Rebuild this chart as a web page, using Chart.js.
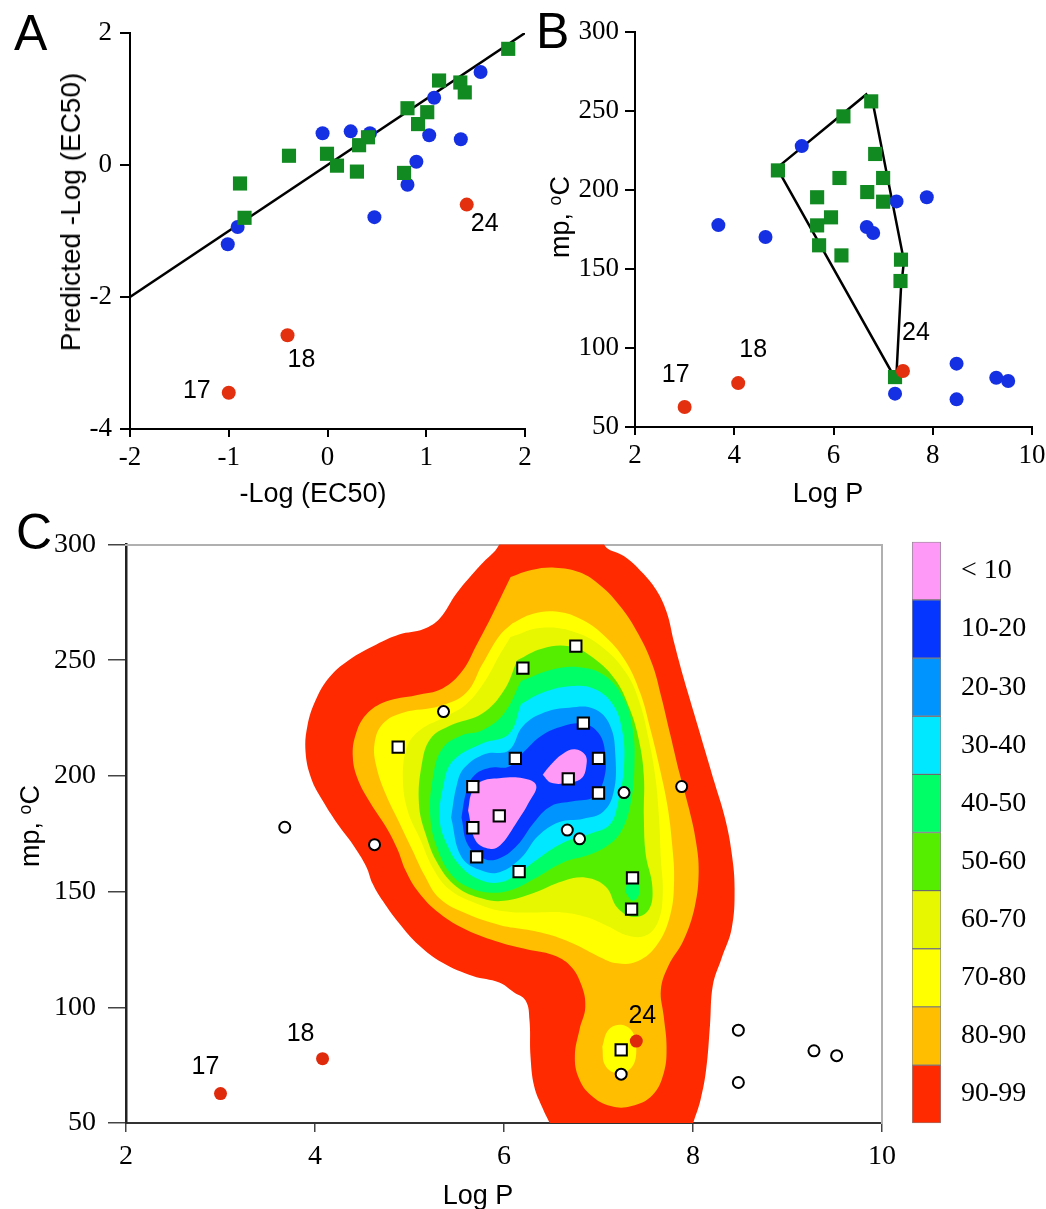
<!DOCTYPE html>
<html>
<head>
<meta charset="utf-8">
<script src="https://cdn.jsdelivr.net/npm/chart.js@4.4.0/dist/chart.umd.min.js"></script>
<style>
  body { margin: 0; background: #fff; width: 1046px; height: 1209px; position: relative; overflow: hidden;
         font-family: "Liberation Sans", Arial, sans-serif; }
  canvas { position: absolute; }
  .t { position: absolute; white-space: nowrap; font-size: 27px; line-height: 1; color: #000; }
  .v { transform: translate(-50%, -50%) rotate(-90deg); }
  .h { transform: translate(-50%, -50%); }
  .p { position: absolute; font-size: 50px; line-height: 1; color: #000; }
  sup { font-size: 65%; vertical-align: 0.45em; }
</style>
</head>
<body>
<canvas id="chartA" width="545" height="480" style="left:0;top:0"></canvas>
<canvas id="chartB" width="530" height="480" style="left:540px;top:0"></canvas>
<canvas id="chartC" width="920" height="680" style="left:0;top:500px"></canvas>
<canvas id="chartKey" width="141" height="639" style="left:905px;top:513px"></canvas>

<div class="p" style="left:14px;top:8px">A</div>
<div class="p" style="left:536px;top:6px">B</div>
<div class="p" style="left:16px;top:507px">C</div>

<div class="t v" style="left:71px;top:212px;font-size:28px">Predicted -Log (EC50)</div>
<div class="t h" style="left:313px;top:493px">-Log (EC50)</div>
<div class="t v" style="left:560px;top:217px">mp, <sup>o</sup>C</div>
<div class="t h" style="left:828px;top:493px">Log P</div>
<div class="t v" style="left:30px;top:826px">mp, <sup>o</sup>C</div>
<div class="t h" style="left:478px;top:1195px">Log P</div>

<script>
// ---- panel A: predicted vs measured -log(EC50)
const fitLineA = [[-2, -2], [2, 2]];
const blueA = [[-1.01, -1.2], [-0.91, -0.94], [-0.05, 0.48], [0.235, 0.51], [0.43, 0.48], [0.475, -0.79],
  [0.81, -0.30], [0.90, 0.05], [1.03, 0.45], [1.08, 1.02], [1.35, 0.39], [1.55, 1.41]];
const greenA = [[-0.886, -0.28], [-0.84, -0.80], [-0.39, 0.14], [-0.005, 0.17], [0.096, -0.01], [0.298, -0.10],
  [0.32, 0.30], [0.41, 0.42], [0.775, -0.12], [0.81, 0.86], [0.917, 0.62], [1.01, 0.80], [1.13, 1.28],
  [1.345, 1.25], [1.39, 1.10], [1.83, 1.76]];
const redA = [[-1.0, -3.45], [-0.405, -2.58], [1.41, -0.60]];
const redNames = ['17', '18', '24'];

// ---- panel B: melting point vs log P
const blueB = [[3.68, 177.8], [4.63, 170.3], [5.36, 227.8], [6.67, 176.6], [6.80, 172.8], [7.27, 192.8],
  [7.88, 195.4], [7.24, 71.1], [8.48, 90.1], [8.48, 67.5], [9.28, 81.2], [9.52, 79.1]];
const greenB = [[4.88, 212.4], [6.20, 246.6], [6.76, 256.1], [6.84, 222.8], [6.12, 207.6], [7.0, 207.6],
  [5.67, 195.4], [6.68, 198.7], [7.0, 192.6], [5.95, 182.7], [5.67, 177.6], [5.71, 165], [6.16, 158.6],
  [7.36, 155.9], [7.35, 142.4], [7.24, 81.6]];
const redB = [[3.0, 62.7], [4.08, 77.8], [7.40, 85.4]];
const hullB = [[4.86, 214], [6.66, 260.5], [6.80, 254], [7.42, 155], [7.36, 138], [7.27, 84], [7.22, 82], [4.86, 214]];

// ---- panel C: probability contours (outline of each band, logP / mp)
const c90 = [[6.02, 312], [7.08, 312], [7.06, 300], [7.28, 294.7], [7.46, 288], [7.61, 280.4], [7.72, 270.9],
  [7.80, 257.6], [7.90, 242.4], [8.01, 227.2], [8.12, 212], [8.23, 196.8], [8.34, 181.6], [8.41, 166.5],
  [8.44, 151.3], [8.41, 134.2], [8.30, 120.9], [8.21, 109.5], [8.18, 92.4], [8.14, 73.4], [8.08, 60.1],
  [7.99, 48], [7.95, 38], [6.55, 38], [6.50, 48], [6.41, 56.3], [6.32, 65.8], [6.28, 79.1], [6.27, 94.3],
  [6.23, 102.8], [6.10, 106.6], [5.95, 110.7], [5.67, 113.5], [5.35, 119.2], [5.10, 126.8], [4.89, 136.3],
  [4.72, 145.8], [4.61, 153.4], [4.54, 161], [4.40, 170.4], [4.26, 178], [4.08, 189.4], [3.96, 198.9],
  [3.90, 210.3], [3.92, 221.7], [4.01, 233], [4.15, 242.5], [4.36, 250.1], [4.65, 256.8], [4.89, 261.1],
  [5.15, 263.5], [5.32, 268], [5.50, 279], [5.75, 291], [5.95, 300], [6.02, 312]];
const c80 = [[6.07, 286], [6.29, 289], [6.54, 290], [6.80, 288], [7.02, 282.3], [7.24, 272.8], [7.42, 261.4],
  [7.57, 248.1], [7.66, 234.9], [7.76, 217.8], [7.86, 200.7], [7.96, 185.5], [8.03, 172], [8.06, 158.9],
  [8.02, 143.7], [7.90, 129], [7.74, 118], [7.66, 107.6], [7.69, 96.2], [7.72, 82.9], [7.69, 71.5],
  [7.57, 62], [7.35, 57.3], [7.13, 57.3], [6.92, 62], [6.79, 69.6], [6.75, 79.1], [6.80, 90.5], [6.86, 100],
  [6.82, 109.5], [6.70, 118], [6.51, 122.7], [6.25, 125], [5.96, 128], [5.60, 133.5], [5.32, 140.5],
  [5.10, 149.5], [4.96, 159], [4.87, 168.5], [4.75, 178], [4.57, 189.4], [4.45, 198.9], [4.40, 208.3],
  [4.43, 217.8], [4.54, 226.4], [4.75, 232.1], [5.07, 234.9], [5.35, 237.8], [5.56, 245.4], [5.70, 255.8],
  [5.88, 270], [6.07, 286]];
const c70 = [[6.09, 266], [6.30, 270], [6.55, 271], [6.80, 268], [7.05, 261], [7.28, 250], [7.44, 236],
  [7.55, 220], [7.65, 203], [7.73, 187], [7.78, 170], [7.80, 155], [7.76, 140], [7.62, 127], [7.42, 120],
  [7.20, 119], [7.00, 122], [6.76, 127], [6.51, 131], [6.25, 133.5], [5.96, 135.5], [5.60, 140.5],
  [5.32, 147], [5.16, 157], [5.03, 168], [4.89, 180], [4.75, 192], [4.65, 204], [4.63, 214], [4.72, 222.6],
  [4.93, 227.3], [5.32, 230.2], [5.60, 235.9], [5.77, 248.2], [5.95, 260.5], [6.09, 266]];
const c70island = [[7.04, 83], [7.10, 90], [7.22, 92.5], [7.35, 90], [7.40, 82], [7.35, 74], [7.20, 71.5],
  [7.07, 75], [7.04, 83]];
const c60 = [[6.07, 260], [6.40, 264], [6.76, 262], [7.06, 255], [7.30, 244], [7.44, 231], [7.53, 216],
  [7.60, 200], [7.64, 182], [7.66, 164], [7.68, 149], [7.63, 137], [7.50, 131], [7.31, 131], [7.10, 135],
  [6.87, 139], [6.62, 141], [6.32, 141], [6.00, 141.5], [5.70, 145], [5.42, 151], [5.25, 160], [5.12, 172],
  [4.98, 185], [4.93, 200], [4.98, 213], [5.12, 220], [5.35, 225], [5.60, 231], [5.80, 241], [5.95, 252],
  [6.07, 260]];
const c50 = [[6.14, 250], [6.40, 255], [6.69, 256], [6.91, 252], [7.17, 242], [7.33, 229], [7.43, 215],
  [7.48, 200], [7.48, 182], [7.50, 166], [7.57, 152], [7.53, 142], [7.37, 139], [7.20, 143], [7.08, 152],
  [6.87, 156], [6.62, 154.5], [6.32, 149.5], [6.00, 146], [5.77, 147], [5.50, 152], [5.30, 162], [5.17, 175],
  [5.10, 188], [5.13, 205], [5.22, 216], [5.42, 221.6], [5.77, 227], [6.00, 237], [6.14, 250]];
const c40 = [[6.18, 241], [6.51, 246], [6.80, 247], [7.06, 243.5], [7.26, 234], [7.36, 221], [7.38, 204.5],
  [7.34, 188], [7.24, 176], [7.10, 170], [6.91, 166], [6.62, 162.5], [6.32, 155.5], [6.10, 151], [5.90, 149.5],
  [5.65, 151.5], [5.45, 157], [5.30, 168], [5.22, 182], [5.25, 200], [5.35, 212], [5.55, 217.5], [5.77, 219.7],
  [6.00, 227], [6.18, 241]];
const c40spot = [[7.28, 150], [7.33, 155.5], [7.41, 154], [7.43, 149], [7.36, 146], [7.28, 150]];
const c30 = [[6.18, 231], [6.40, 235.8], [6.69, 238.7], [6.95, 237.7], [7.15, 231], [7.25, 219.7], [7.27, 204.5],
  [7.21, 189.3], [7.12, 179], [6.91, 175], [6.62, 171], [6.32, 163], [6.14, 157.5], [5.96, 154], [5.75, 155],
  [5.55, 160.5], [5.40, 170], [5.32, 181], [5.36, 196], [5.46, 206.5], [5.77, 214], [6.05, 218], [6.18, 231]];
const c20 = [[5.44, 182], [5.50, 196], [5.58, 203.5], [5.80, 209.5], [6.05, 211], [6.20, 221.5], [6.43, 227.5],
  [6.69, 229.5], [6.95, 229], [7.12, 222], [7.18, 208], [7.16, 193], [7.05, 184.5], [6.84, 181.5], [6.58, 180],
  [6.36, 174], [6.18, 164.5], [5.96, 158.5], [5.77, 159], [5.55, 165], [5.44, 182]];
const c10 = [[5.55, 182], [5.60, 193], [5.68, 200], [5.85, 203.5], [6.05, 204], [6.20, 210], [6.40, 217.5],
  [6.62, 221.5], [6.84, 222.5], [7.00, 218.5], [7.07, 210], [7.06, 199], [6.95, 191], [6.73, 189], [6.50, 187],
  [6.32, 180], [6.14, 170], [5.96, 164.5], [5.80, 164], [5.62, 170], [5.55, 182]];
const c0left = [[5.62, 185], [5.66, 193], [5.75, 197.5], [5.95, 199], [6.20, 199], [6.34, 196], [6.27, 189],
  [6.12, 179], [5.96, 170], [5.85, 168.5], [5.70, 172], [5.62, 185]];
const c0right = [[6.41, 200.5], [6.50, 205], [6.62, 209.5], [6.75, 211.5], [6.86, 209], [6.87, 204], [6.82, 199],
  [6.68, 197], [6.50, 197], [6.41, 200.5]];

const bandLabels = ['< 10', '10-20', '20-30', '30-40', '40-50', '50-60', '60-70', '70-80', '80-90', '90-99'];
const bandColors = ['#ff99f7', '#0536ff', '#0094ff', '#00e8ff', '#00ff66', '#55ee00', '#e6f700', '#ffff00',
  '#ffbf00', '#ff2a00'];
const bandSize = [1, 1, 1, 1, 1, 1, 1, 1, 1, 1];

const pts = a => a.map(([x, y]) => ({x, y}));
const SERIF = '"Liberation Serif", "Times New Roman", serif';
const SANS = '"Liberation Sans", Arial, sans-serif';
const BLUE = '#1530e2', GREEN = '#128a22', RED = '#e3300e';

function numberLabels(points, offsets) {
  return {
    id: 'numberLabels',
    afterDatasetsDraw(chart) {
      const {ctx} = chart;
      const xs = chart.scales.x, ys = chart.scales.y;
      ctx.save();
      ctx.font = '25px ' + SANS;
      ctx.fillStyle = '#000';
      ctx.textBaseline = 'middle';
      redNames.forEach((name, i) => {
        const off = offsets[i];
        ctx.textAlign = off[2];
        ctx.fillText(name, xs.getPixelForValue(points[i][0]) + off[0], ys.getPixelForValue(points[i][1]) + off[1]);
      });
      ctx.restore();
    }
  };
}

function axis(min, max, step, size, tickLen, pad, fontSize, horiz) {
  return {
    type: 'linear', min, max,
    ticks: {stepSize: step, color: '#000', padding: pad, font: {family: SERIF, size: fontSize}},
    grid: {drawOnChartArea: false, color: '#000', lineWidth: 2, tickLength: tickLen},
    border: {color: '#000', width: 2},
    afterFit: s => { if (horiz) s.height = size; else s.width = size; }
  };
}

// ---- chart A
new Chart(document.getElementById('chartA'), {
  type: 'scatter',
  data: {
    datasets: [
      {data: pts(fitLineA), showLine: true, borderColor: '#000', borderWidth: 2.5, pointRadius: 0, order: 5},
      {data: pts(blueA), pointStyle: 'circle', pointRadius: 7, backgroundColor: BLUE, borderWidth: 0, order: 2},
      {data: pts(greenA), pointStyle: 'rect', pointRadius: 10, backgroundColor: GREEN, borderWidth: 0, order: 1},
      {data: pts(redA), pointStyle: 'circle', pointRadius: 7, backgroundColor: RED, borderWidth: 0, order: 0}
    ]
  },
  options: {
    responsive: false, animation: false,
    layout: {padding: {top: 33, right: 20, left: 0, bottom: 0}},
    plugins: {legend: {display: false}, tooltip: {enabled: false}},
    scales: {
      x: axis(-2, 2, 1, 51, 8, 5, 27, true),
      y: axis(-4, 2, 2, 130, 10, 8, 27, false)
    }
  },
  plugins: [numberLabels(redA, [[-18, -2, 'right'], [0, 25, 'left'], [4, 20, 'left']])]
});

// ---- chart B
new Chart(document.getElementById('chartB'), {
  type: 'scatter',
  data: {
    datasets: [
      {data: pts(hullB), showLine: true, borderColor: '#000', borderWidth: 2.5, pointRadius: 0, order: 5},
      {data: pts(blueB), pointStyle: 'circle', pointRadius: 7, backgroundColor: BLUE, borderWidth: 0, order: 2},
      {data: pts(greenB), pointStyle: 'rect', pointRadius: 10, backgroundColor: GREEN, borderWidth: 0, order: 1},
      {data: pts(redB), pointStyle: 'circle', pointRadius: 7, backgroundColor: RED, borderWidth: 0, order: 0}
    ]
  },
  options: {
    responsive: false, animation: false,
    layout: {padding: {top: 32, right: 38, left: 0, bottom: 0}},
    plugins: {legend: {display: false}, tooltip: {enabled: false}},
    scales: {
      x: axis(2, 10, 2, 53, 8, 5, 27, true),
      y: axis(50, 300, 50, 95, 10, 6, 27, false)
    }
  },
  plugins: [numberLabels(redB, [[-9, -32, 'center'], [15, -33, 'center'], [13, -38, 'center']])]
});

// ---- chart C
const band = (shape, color, order) => ({
  data: pts(shape), showLine: true, fill: 'shape', backgroundColor: color, borderWidth: 0,
  pointRadius: 0, tension: 0.4, order
});
const axC = axis(2, 10, 2, 57, 9, 8, 28, true);
axC.grid.color = '#444'; axC.grid.lineWidth = 1.5; axC.border.color = '#333';
const ayC = axis(50, 300, 50, 126, 18, 12, 28, false);
ayC.grid.color = '#444'; ayC.grid.lineWidth = 1.5; ayC.border.color = '#222'; ayC.border.width = 2.5;
const frame = (horiz) => ({
  type: 'linear', position: horiz ? 'top' : 'right',
  ticks: {display: false}, grid: {display: false},
  border: {color: '#b0b0b0', width: 2},
  afterFit: s => { if (horiz) s.height = 0; else s.width = 0; }
});

new Chart(document.getElementById('chartC'), {
  type: 'scatter',
  data: {
    datasets: [
      band(c90, bandColors[9], 20),
      band(c80, bandColors[8], 19),
      band(c70, bandColors[7], 18),
      band(c70island, bandColors[7], 18),
      band(c60, bandColors[6], 17),
      band(c50, bandColors[5], 16),
      band(c40, bandColors[4], 15),
      band(c40spot, bandColors[4], 15),
      band(c30, bandColors[3], 14),
      band(c20, bandColors[2], 13),
      band(c10, bandColors[1], 12),
      band(c0left, bandColors[0], 11),
      band(c0right, bandColors[0], 11),
      {data: pts(blueB), pointStyle: 'circle', pointRadius: 5.5, backgroundColor: '#fff', borderColor: '#000',
       borderWidth: 2, order: 2},
      {data: pts(greenB), pointStyle: 'rect', pointRadius: 8, backgroundColor: '#fff', borderColor: '#000',
       borderWidth: 2, order: 1},
      {data: pts(redB), pointStyle: 'circle', pointRadius: 6.5, backgroundColor: '#e02a0c', borderWidth: 0, order: 0}
    ]
  },
  options: {
    responsive: false, animation: false,
    layout: {padding: {top: 44.5, right: 38, left: 0, bottom: 0}},
    elements: {line: {capBezierPoints: false}},
    plugins: {legend: {display: false}, tooltip: {enabled: false}},
    scales: {x: axC, y: ayC, x2: frame(true), y2: frame(false)}
  },
  plugins: [numberLabels(redB, [[-15, -27, 'center'], [-22, -25, 'center'], [6, -25, 'center']])]
});

// ---- colour key
new Chart(document.getElementById('chartKey'), {
  type: 'bar',
  data: {
    labels: bandLabels,
    datasets: [{data: bandSize, backgroundColor: bandColors, borderColor: 'rgba(40,40,40,0.55)',
      borderWidth: 1, borderSkipped: false, barPercentage: 1, categoryPercentage: 1}]
  },
  options: {
    indexAxis: 'y', responsive: false, animation: false,
    layout: {padding: {top: 0, right: 0, left: 7, bottom: 0}},
    plugins: {legend: {display: false}, tooltip: {enabled: false}},
    scales: {
      x: {display: false, min: 0, max: 1},
      y: {position: 'right', grid: {display: false}, border: {display: false},
          ticks: {color: '#000', padding: 12, font: {family: SERIF, size: 28}},
          afterFit: s => { s.width = 105; }}
    }
  }
});
</script>
</body>
</html>
